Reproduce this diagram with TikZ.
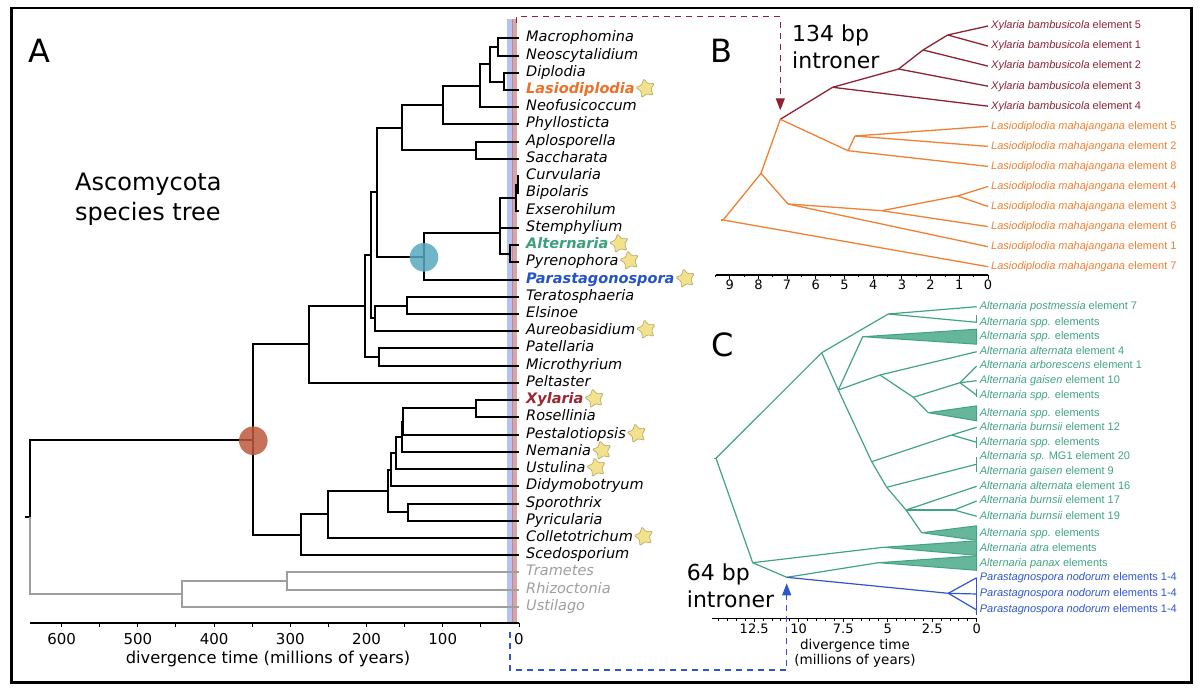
\documentclass[tikz,border=0pt]{standalone}
\usepackage{fontspec}
\setmainfont{DejaVu Sans}
\newfontfamily\arialfont{Liberation Sans}
\usepackage{tikz}
\usetikzlibrary{arrows.meta,shapes.geometric,positioning}
\definecolor{clasio}{RGB}{238,112,40}
\definecolor{calter}{RGB}{58,160,124}
\definecolor{cparas}{RGB}{36,82,200}
\definecolor{cxylar}{RGB}{155,38,48}
\definecolor{bxyl}{RGB}{140,35,52}
\definecolor{blas}{RGB}{240,128,50}
\definecolor{ctree}{RGB}{64,164,130}
\definecolor{cblue}{RGB}{45,85,205}
\definecolor{starfill}{RGB}{243,226,140}
\definecolor{starline}{RGB}{185,172,112}
\definecolor{bandblue}{RGB}{130,155,235}
\definecolor{bandred}{RGB}{185,90,90}
\definecolor{dotteal}{RGB}{88,168,190}
\definecolor{dotred}{RGB}{190,88,60}

\begin{document}
\begin{tikzpicture}[x=1pt,y=-1pt]
\tikzstyle{br}=[line width=2pt]
\tikzstyle{tax}=[anchor=west,inner xsep=7pt,inner ysep=0pt,text height=10.5pt,text depth=3pt,font=\fontsize{14.5}{17}\selectfont\itshape]
\tikzstyle{hi}=[tax,font=\fontsize{14.5}{17}\selectfont\bfseries\itshape]
\tikzstyle{basi}=[tax,text=black!38]
\tikzstyle{fav}=[star,star points=5,star point ratio=1.9,minimum size=20pt,inner sep=0pt,rotate=12,rounded corners=1.2pt,draw=starline,fill=starfill,line width=0.7pt]
\tikzstyle{el}=[anchor=west,inner xsep=3pt,inner ysep=0pt,text height=8pt,text depth=2.3pt,font=\arialfont\fontsize{11}{13}\selectfont]
\tikzstyle{xb}=[line width=1.3pt,bxyl]
\tikzstyle{lb}=[line width=1.3pt,blas]
\tikzstyle{kb}=[line width=1.2pt,ctree]
\tikzstyle{pb}=[line width=1.2pt,cblue]
\tikzstyle{tri}=[draw=ctree,fill=ctree!80,line width=1pt,line join=round]
\tikzstyle{panel}=[inner sep=0pt,font=\fontsize{32}{38}\selectfont]
\tikzstyle{intr}=[anchor=west,inner sep=0pt,align=left,font=\fontsize{22}{26.6}\selectfont]
\tikzstyle{num}=[inner sep=0pt,font=\fontsize{15}{18}\selectfont]
\tikzstyle{numb}=[inner sep=0pt,font=\fontsize{13}{15}\selectfont]
\tikzstyle{dot}=[circle,inner sep=0pt,minimum size=28.6pt,opacity=.85]
\useasboundingbox (0,0) rectangle (1200,692);

\fill[bandblue,opacity=.6] (506.5,19) rectangle (513,622);
\fill[bandred,opacity=.55] (511.5,19) rectangle (517,622);

\node[panel] (pa) at (39.5,50.8) {A};
\node[panel] (pb) at (721,51) {B};
\node[panel] (pc) at (722.7,345) {C};
\node[anchor=west,align=left,inner sep=0pt,font=\fontsize{24}{30}\selectfont] (title) at (75,199) {Ascomycota\\species tree};
\node[intr] (i134) at (792,47) {134 bp\\introner};
\node[intr] (i64) at (686.7,586) {64 bp\\introner};

\node[tax] (macro) at (519,38) {Macrophomina};
\node[tax] (neosc) at (519,56) {Neoscytalidium};
\node[tax] (diplo) at (519,73) {Diplodia};
\node[hi,text=clasio] (lasio) at (519,90) {Lasiodiplodia};
\node[tax] (neofu) at (519,107) {Neofusicoccum};
\node[tax] (phyll) at (519,124) {Phyllosticta};
\node[tax] (aplos) at (519,142) {Aplosporella};
\node[tax] (sacch) at (519,159) {Saccharata};
\node[tax] (curvu) at (519,176) {Curvularia};
\node[tax] (bipol) at (519,193) {Bipolaris};
\node[tax] (exser) at (519,211) {Exserohilum};
\node[tax] (stemp) at (519,228) {Stemphylium};
\node[hi,text=calter] (alter) at (519,245) {Alternaria};
\node[tax] (pyren) at (519,262) {Pyrenophora};
\node[hi,text=cparas] (paras) at (519,280) {Parastagonospora};
\node[tax] (terat) at (519,297) {Teratosphaeria};
\node[tax] (elsin) at (519,314) {Elsinoe};
\node[tax] (aureo) at (519,331) {Aureobasidium};
\node[tax] (patel) at (519,348) {Patellaria};
\node[tax] (micro) at (519,366) {Microthyrium};
\node[tax] (pelta) at (519,383) {Peltaster};
\node[hi,text=cxylar] (xylar) at (519,400) {Xylaria};
\node[tax] (rosel) at (519,417) {Rosellinia};
\node[tax] (pesta) at (519,435) {Pestalotiopsis};
\node[tax] (neman) at (519,452) {Nemania};
\node[tax] (ustul) at (519,469) {Ustulina};
\node[tax] (didym) at (519,486) {Didymobotryum};
\node[tax] (sporo) at (519,504) {Sporothrix};
\node[tax] (pyric) at (519,521) {Pyricularia};
\node[tax] (colle) at (519,538) {Colletotrichum};
\node[tax] (scedo) at (519,555) {Scedosporium};
\node[basi] (trame) at (519,572) {Trametes};
\node[basi] (rhizo) at (519,590) {Rhizoctonia};
\node[basi] (ustil) at (519,607) {Ustilago};

\node[fav,right=-3pt of lasio] (s1) {};
\node[fav,right=-3pt of alter] (s2) {};
\node[fav,right=-3pt of pyren] (s3) {};
\node[fav,right=-3pt of paras] (s4) {};
\node[fav,right=-3pt of aureo] (s5) {};
\node[fav,right=-3pt of xylar] (s6) {};
\node[fav,right=-3pt of pesta] (s7) {};
\node[fav,right=-3pt of neman] (s8) {};
\node[fav,right=-3pt of ustul] (s9) {};
\node[fav,right=-3pt of colle] (s10) {};

\coordinate (mn) at (498,47);
\coordinate (dl) at (504,82);
\coordinate (mndl) at (490,64);
\coordinate (bo1) at (480,86);
\coordinate (bo2) at (443,105);
\coordinate (as) at (476,150);
\coordinate (bot) at (402,128);
\coordinate (cb) at (518,185);
\coordinate (cbe) at (516,198);
\coordinate (ap) at (510,254);
\coordinate (ple) at (500,233);
\coordinate (plp) at (424,257);
\coordinate (do1) at (377,192);
\coordinate (te) at (407,306);
\coordinate (tea) at (375,318);
\coordinate (do2) at (371,255);
\coordinate (pm) at (379,357);
\coordinate (do3) at (365,306);
\coordinate (dot) at (309,344);
\coordinate (xr) at (476,408);
\coordinate (xrp) at (403,422);
\coordinate (xrn) at (402,437);
\coordinate (xru) at (396,453);
\coordinate (xrd) at (391,470);
\coordinate (sp) at (408,512);
\coordinate (sor) at (388,491);
\coordinate (soc) at (328,514);
\coordinate (sos) at (301,535);
\coordinate (asc) at (253,440);
\coordinate (tr) at (287,581);
\coordinate (bas) at (182,594);
\coordinate (root) at (30,517);
\coordinate (stub) at (25,517);

\draw[br] (mn) |- (macro); \draw[br] (mn) |- (neosc);
\draw[br] (dl) |- (diplo); \draw[br] (dl) |- (lasio);
\draw[br] (mndl) |- (mn); \draw[br] (mndl) |- (dl);
\draw[br] (bo1) |- (mndl); \draw[br] (bo1) |- (neofu);
\draw[br] (bo2) |- (bo1); \draw[br] (bo2) |- (phyll);
\draw[br] (as) |- (aplos); \draw[br] (as) |- (sacch);
\draw[br] (bot) |- (bo2); \draw[br] (bot) |- (as);
\draw[br] (cb) |- (curvu); \draw[br] (cb) |- (bipol);
\draw[br] (cbe) |- (cb); \draw[br] (cbe) |- (exser);
\draw[br] (ap) |- (alter); \draw[br] (ap) |- (pyren);
\draw[br] (ple) |- (cbe); \draw[br] (ple) |- (stemp); \draw[br] (ple) |- (ap);
\draw[br] (plp) |- (ple); \draw[br] (plp) |- (paras);
\draw[br] (do1) |- (bot); \draw[br] (do1) |- (plp);
\draw[br] (te) |- (terat); \draw[br] (te) |- (elsin);
\draw[br] (tea) |- (te); \draw[br] (tea) |- (aureo);
\draw[br] (do2) |- (do1); \draw[br] (do2) |- (tea);
\draw[br] (pm) |- (patel); \draw[br] (pm) |- (micro);
\draw[br] (do3) |- (do2); \draw[br] (do3) |- (pm);
\draw[br] (dot) |- (do3); \draw[br] (dot) |- (pelta);
\draw[br] (xr) |- (xylar); \draw[br] (xr) |- (rosel);
\draw[br] (xrp) |- (xr); \draw[br] (xrp) |- (pesta);
\draw[br] (xrn) |- (xrp); \draw[br] (xrn) |- (neman);
\draw[br] (xru) |- (xrn); \draw[br] (xru) |- (ustul);
\draw[br] (xrd) |- (xru); \draw[br] (xrd) |- (didym);
\draw[br] (sp) |- (sporo); \draw[br] (sp) |- (pyric);
\draw[br] (sor) |- (xrd); \draw[br] (sor) |- (sp);
\draw[br] (soc) |- (sor); \draw[br] (soc) |- (colle);
\draw[br] (sos) |- (soc); \draw[br] (sos) |- (scedo);
\draw[br] (asc) |- (dot); \draw[br] (asc) |- (sos);
\draw[br] (root) |- (asc); \draw[br] (stub) -- (root);
\draw[br,black!38] (tr) |- (trame); \draw[br,black!38] (tr) |- (rhizo);
\draw[br,black!38] (bas) |- (tr); \draw[br,black!38] (bas) |- (ustil);
\draw[br,black!38] (root) |- (bas);

\node[dot,fill=dotteal] (age1) at (424,257.3) {};
\node[dot,fill=dotred] (age2) at (253.3,440.7) {};

\coordinate (axa0) at (519,623);
\coordinate (axa1) at (30,623);
\draw[line width=1.5pt] (axa1) -- (axa0);
\foreach \t in {0,50,...,600} \draw[line width=1pt] (519-0.7623*\t,623) -- ++(0,4);
\foreach \t in {0,100,...,600} \node[num] (ta\t) at (519-0.7623*\t,639) {\t};
\node[inner sep=0pt,font=\fontsize{16.3}{19}\selectfont] (xla) at (268,659) {divergence time (millions of years)};

\node[el,text=bxyl] (x5) at (988,26.0) {{\itshape Xylaria bambusicola} element 5};
\node[el,text=bxyl] (x1) at (988,46.1) {{\itshape Xylaria bambusicola} element 1};
\node[el,text=bxyl] (x2) at (988,66.1) {{\itshape Xylaria bambusicola} element 2};
\node[el,text=bxyl] (x3) at (988,86.2) {{\itshape Xylaria bambusicola} element 3};
\node[el,text=bxyl] (x4) at (988,106.2) {{\itshape Xylaria bambusicola} element 4};
\node[el,text=blas] (l5) at (988,126.3) {{\itshape Lasiodiplodia mahajangana} element 5};
\node[el,text=blas] (l2) at (988,146.4) {{\itshape Lasiodiplodia mahajangana} element 2};
\node[el,text=blas] (l8) at (988,166.4) {{\itshape Lasiodiplodia mahajangana} element 8};
\node[el,text=blas] (l4) at (988,186.5) {{\itshape Lasiodiplodia mahajangana} element 4};
\node[el,text=blas] (l3) at (988,206.5) {{\itshape Lasiodiplodia mahajangana} element 3};
\node[el,text=blas] (l6) at (988,226.6) {{\itshape Lasiodiplodia mahajangana} element 6};
\node[el,text=blas] (l1) at (988,246.7) {{\itshape Lasiodiplodia mahajangana} element 1};
\node[el,text=blas] (l7) at (988,266.7) {{\itshape Lasiodiplodia mahajangana} element 7};

\coordinate (b0s) at (720.5,220);
\coordinate (b0) at (723.2,220);
\coordinate (b1) at (761,173.3);
\coordinate (b2) at (780.3,119.3);
\coordinate (bx1) at (832.6,87.3);
\coordinate (bx2) at (898.6,69);
\coordinate (bx3) at (923,50);
\coordinate (bx4) at (947.7,35);
\coordinate (bl1) at (848,150.7);
\coordinate (bl2) at (855,136);
\coordinate (b3) at (788,204);
\coordinate (bl3) at (881.7,210.7);
\coordinate (bl4) at (957.5,196);

\draw[lb] (b0s) -- (b0);
\draw[lb] (b0) -- (b1); \draw[lb] (b0) -- (l7.west);
\draw[lb] (b1) -- (b2); \draw[lb] (b1) -- (b3);
\draw[xb] (b2) -- (bx1); \draw[lb] (b2) -- (bl1);
\draw[xb] (bx1) -- (bx2); \draw[xb] (bx1) -- (x4.west);
\draw[xb] (bx2) -- (bx3); \draw[xb] (bx2) -- (x3.west);
\draw[xb] (bx3) -- (bx4); \draw[xb] (bx3) -- (x2.west);
\draw[xb] (bx4) -- (x5.west); \draw[xb] (bx4) -- (x1.west);
\draw[lb] (bl1) -- (bl2); \draw[lb] (bl1) -- (l8.west);
\draw[lb] (bl2) -- (l5.west); \draw[lb] (bl2) -- (l2.west);
\draw[lb] (b3) -- (bl3); \draw[lb] (b3) -- (l1.west);
\draw[lb] (bl3) -- (bl4); \draw[lb] (bl3) -- (l6.west);
\draw[lb] (bl4) -- (l4.west); \draw[lb] (bl4) -- (l3.west);

\draw[line width=1.2pt] (715.6,275) -- (988,275);
\foreach \t in {0,0.5,...,9.5} \draw[line width=0.9pt] (988-28.7*\t,275) -- ++(0,2.5);
\foreach \t in {0,...,9} \draw[line width=0.9pt] (988-28.7*\t,275) -- ++(0,4);
\foreach \t in {0,...,9} \node[numb] (tb\t) at (988-28.7*\t,285) {\t};

\node[el,text=ctree] (cpost) at (976.7,306.7) {{\itshape Alternaria postmessia} element 7};
\node[el,text=ctree] (cspp1) at (976.7,322.3) {{\itshape Alternaria spp.} elements};
\node[el,text=ctree] (cspp2) at (976.7,336.7) {{\itshape Alternaria spp.} elements};
\node[el,text=ctree] (calt4) at (976.7,351.7) {{\itshape Alternaria alternata} element 4};
\node[el,text=ctree] (carb1) at (976.7,366.0) {{\itshape Alternaria arborescens} element 1};
\node[el,text=ctree] (cgai10) at (976.7,380.7) {{\itshape Alternaria gaisen} element 10};
\node[el,text=ctree] (cspp3) at (976.7,395.3) {{\itshape Alternaria spp.} elements};
\node[el,text=ctree] (cspp4) at (976.7,413.3) {{\itshape Alternaria spp.} elements};
\node[el,text=ctree] (cbur12) at (976.7,427.3) {{\itshape Alternaria burnsii} element 12};
\node[el,text=ctree] (cspp5) at (976.7,442.3) {{\itshape Alternaria spp.} elements};
\node[el,text=ctree] (cmg1) at (976.7,456.7) {{\itshape Alternaria sp.} MG1 element 20};
\node[el,text=ctree] (cgai9) at (976.7,471.7) {{\itshape Alternaria gaisen} element 9};
\node[el,text=ctree] (calt16) at (976.7,486.3) {{\itshape Alternaria alternata} element 16};
\node[el,text=ctree] (cbur17) at (976.7,501.0) {{\itshape Alternaria burnsii} element 17};
\node[el,text=ctree] (cbur19) at (976.7,516.3) {{\itshape Alternaria burnsii} element 19};
\node[el,text=ctree] (cspp6) at (976.7,533.3) {{\itshape Alternaria spp.} elements};
\node[el,text=ctree] (catra) at (976.7,548.3) {{\itshape Alternaria atra} elements};
\node[el,text=ctree] (cpanax) at (976.7,563.3) {{\itshape Alternaria panax} elements};
\node[el,text=cblue] (cpar1) at (976.7,577.7) {{\itshape Parastagnospora nodorum} elements 1-4};
\node[el,text=cblue] (cpar2) at (976.7,594.0) {{\itshape Parastagnospora nodorum} elements 1-4};
\node[el,text=cblue] (cpar3) at (976.7,610.0) {{\itshape Parastagnospora nodorum} elements 1-4};

\coordinate (krs) at (713.5,458.3);
\coordinate (kr) at (716,458.3);
\coordinate (k1) at (821.7,352.7);
\coordinate (k2) at (888.3,314);
\coordinate (k3) at (838.3,390);
\coordinate (k4) at (862.7,336.7);
\coordinate (k5) at (880,375);
\coordinate (k6) at (871.7,461.7);
\coordinate (k7) at (913.3,397.3);
\coordinate (k8) at (960,382.7);
\coordinate (k9) at (928.3,412.7);
\coordinate (k10) at (951.7,435);
\coordinate (k11) at (886.7,487.3);
\coordinate (k11t) at (976.7,464.2);
\coordinate (k12) at (906,510);
\coordinate (k13) at (954,510);
\coordinate (k14) at (921.7,532.7);
\coordinate (kb) at (752.7,562.7);
\coordinate (kat) at (883.3,547.3);
\coordinate (kpp) at (786.7,577.3);
\coordinate (kpx) at (878.3,562.7);
\coordinate (kpn) at (948.3,593.3);

\filldraw[tri] (k4) -- ([yshift=7.5pt]cspp2.west) -- ([yshift=-7.5pt]cspp2.west) -- cycle;
\filldraw[tri] (k9) -- ([yshift=7.5pt]cspp4.west) -- ([yshift=-7.5pt]cspp4.west) -- cycle;
\filldraw[tri] (k14) -- ([yshift=7.5pt]cspp6.west) -- ([yshift=-7pt]cspp6.west) -- cycle;
\filldraw[tri] (kat) -- ([yshift=7.5pt]catra.west) -- ([yshift=-7pt]catra.west) -- cycle;
\filldraw[tri] (kpx) -- ([yshift=7.5pt]cpanax.west) -- ([yshift=-7pt]cpanax.west) -- cycle;

\draw[kb] (krs) -- (kr);
\draw[kb] (kr) -- (k1); \draw[kb] (kr) -- (kb);
\draw[kb] (k1) -- (k2); \draw[kb] (k1) -- (k3);
\draw[kb] (k2) -- (cpost.west); \draw[kb] (k2) -- (cspp1.west);
\draw[kb] ([yshift=7.5pt]cspp1.west) -- ([yshift=-1pt]cspp1.west);
\draw[kb] (k3) -- (k4); \draw[kb] (k3) -- (k5); \draw[kb] (k3) -- (k6);
\draw[kb] (k5) -- (calt4.west); \draw[kb] (k5) -- (k7);
\draw[kb] (k7) -- (k8); \draw[kb] (k7) -- (k9);
\draw[kb] (k8) -- (carb1.west); \draw[kb] (k8) -- (cgai10.west); \draw[kb] (k8) -- (cspp3.west);
\draw[kb] ([yshift=6pt]cspp3.west) -- ([yshift=-1.5pt]cspp3.west);
\draw[kb] (k6) -- (k10); \draw[kb] (k6) -- (k11);
\draw[kb] (k10) -- (cbur12.west); \draw[kb] (k10) -- (cspp5.west);
\draw[kb] ([yshift=5.3pt]cspp5.west) -- ([yshift=-5.7pt]cspp5.west);
\draw[kb] (k11) -- (k11t); \draw[kb] (cmg1.west) -- (cgai9.west);
\draw[kb] (k11) -- (k12);
\draw[kb] (k12) -- (calt16.west); \draw[kb] (k12) -- (k13); \draw[kb] (k12) -- (k14);
\draw[kb] (k13) -- (cbur17.west); \draw[kb] (k13) -- (cbur19.west);
\draw[kb] (kb) -- (kat); \draw[kb] (kb) -- (kpp);
\draw[kb] (kpp) -- (kpx); \draw[pb] (kpp) -- (kpn);
\draw[pb] (kpn) -- (cpar1.west); \draw[pb] (kpn) -- (cpar2.west); \draw[pb] (kpn) -- (cpar3.west);
\draw[pb] (cpar1.west) -- ([yshift=-5pt]cpar3.west);

\draw[line width=1.2pt] (711.7,618.3) -- (976.7,618.3);
\foreach \t in {0,0.5,...,14.5} \draw[line width=0.9pt] (976.7-17.8*\t,618.3) -- ++(0,2.5);
\foreach \t [count=\i] in {0,2.5,5,7.5,10,12.5} \draw[line width=0.9pt] (976.7-17.8*\t,618.3) -- ++(0,4);
\foreach \t [count=\i] in {0,2.5,5,7.5,10,12.5} \node[numb] (tc\i) at (976.7-17.8*\t,629) {\t};
\node[align=center,inner sep=0pt,font=\fontsize{13.5}{15}\selectfont] (xlc) at (855,653) {divergence time\\(millions of years)};

\coordinate (rtop) at (516.5,23);
\coordinate (rcorn) at (780.3,16.7);
\draw[bxyl,line width=1.2pt,dash pattern=on 6pt off 5pt,-{Triangle[length=12pt,width=9pt]}] (rtop) |- (rcorn) -- ([yshift=9pt]b2);
\coordinate (bbot) at (510,632);
\coordinate (bcorn) at (786.7,670);
\draw[cblue,line width=1.2pt,dash pattern=on 6pt off 5pt,-{Triangle[length=12pt,width=9pt]}] (bbot) |- (bcorn) -- ([yshift=-6pt]kpp);

\draw[line width=2.4pt] (11.5,8) rectangle (1191.5,682.5);
\end{tikzpicture}
\end{document}
